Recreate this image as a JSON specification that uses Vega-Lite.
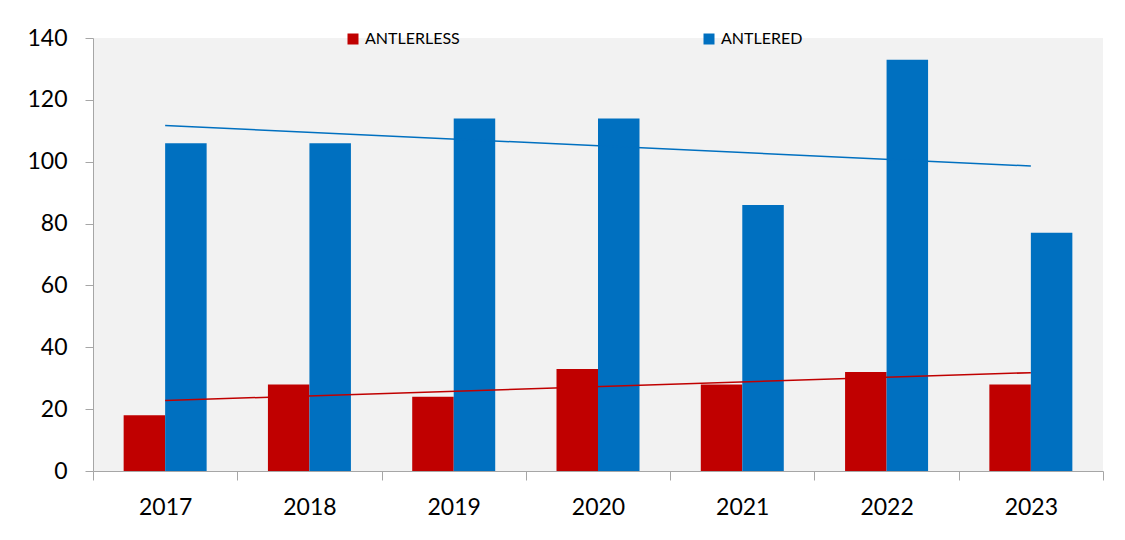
{
  "$schema": "https://vega.github.io/schema/vega-lite/v6.json",
  "width": 1010,
  "height": 433,
  "autosize": {"type": "none"},
  "padding": {"left": 93, "top": 38, "right": 22, "bottom": 69},
  "background": "white",
  "config": {
    "font": "Lato",
    "view": {"fill": "#f2f2f2", "stroke": null}
  },
  "datasets": {
    "bars": [
      {"year": "2017", "type": "ANTLERLESS", "value": 18},
      {"year": "2018", "type": "ANTLERLESS", "value": 28},
      {"year": "2019", "type": "ANTLERLESS", "value": 24},
      {"year": "2020", "type": "ANTLERLESS", "value": 33},
      {"year": "2021", "type": "ANTLERLESS", "value": 28},
      {"year": "2022", "type": "ANTLERLESS", "value": 32},
      {"year": "2023", "type": "ANTLERLESS", "value": 28},
      {"year": "2017", "type": "ANTLERED", "value": 106},
      {"year": "2018", "type": "ANTLERED", "value": 106},
      {"year": "2019", "type": "ANTLERED", "value": 114},
      {"year": "2020", "type": "ANTLERED", "value": 114},
      {"year": "2021", "type": "ANTLERED", "value": 86},
      {"year": "2022", "type": "ANTLERED", "value": 133},
      {"year": "2023", "type": "ANTLERED", "value": 77}
    ],
    "trend": [
      {"year": "2017", "type": "ANTLERLESS", "trend": 22.8},
      {"year": "2023", "type": "ANTLERLESS", "trend": 31.8},
      {"year": "2017", "type": "ANTLERED", "trend": 111.7},
      {"year": "2023", "type": "ANTLERED", "trend": 98.6}
    ]
  },
  "encoding": {
    "x": {
      "field": "year",
      "type": "nominal",
      "sort": ["2017", "2018", "2019", "2020", "2021", "2022", "2023"],
      "scale": {"paddingInner": 0, "paddingOuter": 0},
      "axis": {
        "title": null,
        "labelAngle": 0,
        "labelFontSize": 23,
        "labelColor": "#000000",
        "labelPadding": 16,
        "tickBand": "extent",
        "tickSize": 9,
        "tickColor": "#a6a6a6",
        "domainColor": "#a6a6a6",
        "grid": false
      }
    }
  },
  "layer": [
    {
      "data": {"name": "bars"},
      "mark": {"type": "bar"},
      "encoding": {
        "xOffset": {"field": "type", "type": "nominal", "sort": ["ANTLERLESS", "ANTLERED"], "scale": {"paddingInner": 0, "paddingOuter": 0.7385}},
        "y": {
          "field": "value",
          "type": "quantitative",
          "scale": {"domain": [0, 140]},
          "axis": {
            "title": null,
            "values": [0, 20, 40, 60, 80, 100, 120, 140],
            "labelFontSize": 23,
            "labelColor": "#000000",
            "labelPadding": 18,
            "tickSize": 8,
            "tickColor": "#a6a6a6",
            "domainColor": "#a6a6a6",
            "grid": false
          }
        },
        "color": {
          "field": "type",
          "type": "nominal",
          "scale": {"domain": ["ANTLERLESS", "ANTLERED"], "range": ["#c00000", "#0070c0"]},
          "legend": {
            "title": null,
            "orient": "none",
            "direction": "horizontal",
            "legendX": 252,
            "legendY": -7,
            "symbolType": "square",
            "symbolSize": 121,
            "symbolStrokeWidth": 0,
            "symbolOpacity": 1,
            "labelFontSize": 16,
            "labelColor": "#000000",
            "labelOffset": 4,
            "columnPadding": 241
          }
        }
      }
    },
    {
      "data": {"name": "trend"},
      "mark": {"type": "line", "strokeWidth": 1.5},
      "encoding": {
        "y": {"field": "trend", "type": "quantitative"},
        "color": {"field": "type", "type": "nominal", "legend": null}
      }
    }
  ]
}
